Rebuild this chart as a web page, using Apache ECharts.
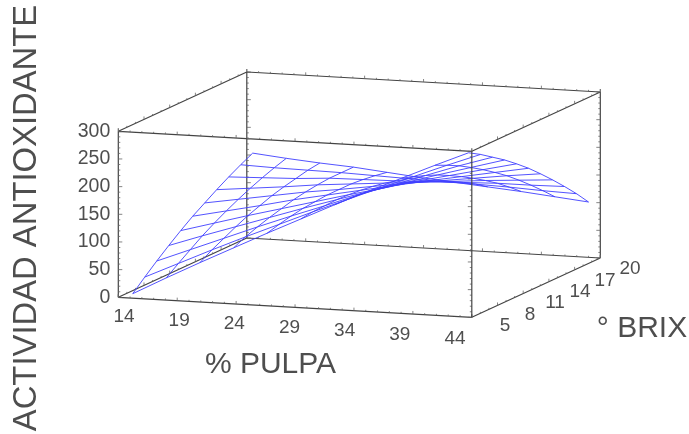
<!DOCTYPE html>
<html><head><meta charset="utf-8">
<style>html,body{margin:0;padding:0;background:#fff}#c{width:689px;height:434px}</style>
<script src="https://cdn.jsdelivr.net/npm/echarts@6/dist/echarts.min.js"></script>
</head><body><div id="c"></div>
<script>
const pulpa = [14.5,17.35,20.2,23.05,25.9,28.75,31.6,34.45,37.3,40.15,43];
const brix = [6,7.4,8.8,10.2,11.6,13,14.4,15.8,17.2,18.6,20];
const actividad = [
 [0,32,63,93,123,152,181,209,236,263,289],
 [20,48,76,103,129,155,180,205,229,253,276],
 [39,63,87,111,134,156,179,200,221,242,261],
 [57,78,98,118,138,157,176,194,212,229,246],
 [74,91,108,124,140,156,171,187,201,215,229],
 [90,103,116,130,142,154,166,178,189,200,211],
 [104,114,124,134,142,151,160,168,176,184,191],
 [118,124,130,137,142,147,152,157,162,166,170],
 [131,133,135,139,140,141,143,145,147,147,148],
 [143,141,140,139,137,135,133,132,130,127,125],
 [154,148,143,139,133,127,122,117,112,106,100]
];
const pulpaTicks = [14,19,24,29,34,39,44];
const brixTicks = [5,8,11,14,17,20];
const zTicks = [0,50,100,150,200,250,300];
const xTitle = '% PULPA', yTitle = '° BRIX', zTitle = 'ACTIVIDAD ANTIOXIDANTE';

// parallel projection of the 3D box on to the hidden page-sized cartesian
const xr=[14,44], yr=[5,20], zr=[0,300];
function proj(x,y,z){
  const t=(x-xr[0])/(xr[1]-xr[0]), s=(y-yr[0])/(yr[1]-yr[0]), h=(z-zr[0])/(zr[1]-zr[0]);
  return [118.3+353.5*t+128.5*s, 297.3+20*t-59.3*s-166*h];
}
function segSeries(segs,color,width,z){
  const data=[];
  segs.forEach(s=>{data.push(s[0],s[1],[null,null]);});
  return {type:'line',data:data,showSymbol:false,silent:true,animation:false,z:z,connectNulls:false,
    lineStyle:{color:color,width:width},clip:false};
}
const [x0,x1]=xr,[y0,y1]=yr,[z0,z1]=zr;
const e=(a,b)=>[proj(...a),proj(...b)];
const back=[
 e([x0,y1,z0],[x1,y1,z0]),e([x0,y1,z1],[x1,y1,z1]),e([x0,y1,z0],[x0,y1,z1]),e([x1,y1,z0],[x1,y1,z1]),
 e([x0,y0,z0],[x0,y1,z0]),e([x0,y0,z1],[x0,y1,z1]),e([x1,y0,z1],[x1,y1,z1]),e([x0,y0,z0],[x0,y0,z1]),
 e([x0,y0,z1],[x1,y0,z1]),e([x0,y0,z0],[x1,y0,z0]),e([x1,y0,z0],[x1,y1,z0])
];
const front=[e([x1,y0,z0],[x1,y0,z1])];
const tick=[];
function addTick(p,dx,dy){tick.push([p,[p[0]+dx,p[1]+dy]]);}
for(let z=0;z<=300;z+=10){
  const L=z%50===0?4:2;
  addTick(proj(x0,y0,z),L,0);addTick(proj(x0,y1,z),L,0);
  addTick(proj(x1,y0,z),-L,0);addTick(proj(x1,y1,z),-L,0);
}
for(let x=14;x<=44;x+=1){
  const L=(x-14)%5===0?3:1.5;
  [z0,z1].forEach(z=>{addTick(proj(x,y0,z),0,-L);addTick(proj(x,y1,z),0,-L);});
}
for(let y=5;y<=20;y+=1){
  const L=(y-5)%3===0?3:1.5;
  [z0,z1].forEach(z=>{addTick(proj(x0,y,z),0,-L);addTick(proj(x1,y,z),0,-L);});
}
const series=[segSeries(back,'#444',1.2,1),segSeries(tick,'#666',0.8,1)];
const blue='#3f3fff';
actividad.forEach((row,j)=>{
  series.push({type:'line',showSymbol:false,silent:true,animation:false,z:2,clip:false,
    data:row.map((v,i)=>proj(pulpa[i],brix[j],v)),lineStyle:{color:blue,width:0.9}});
});
pulpa.forEach((p,i)=>{
  series.push({type:'line',showSymbol:false,silent:true,animation:false,z:2,clip:false,
    data:brix.map((b,j)=>proj(p,b,actividad[j][i])),lineStyle:{color:blue,width:0.9}});
});
series.push(segSeries(front,'#444',1.2,3));
// tick labels and axis titles as anchored text
function labels(items,align,size,rot){
  return {type:'scatter',symbolSize:0,silent:true,animation:false,z:4,clip:false,
    data:items.map(it=>({value:it.p,label:{show:true,position:'inside',formatter:String(it.t),align:align,
      verticalAlign:'middle',fontFamily:'"Liberation Sans",Arial,sans-serif',fontSize:size,color:'#222',rotate:rot||0}}))};
}
series.push(labels(zTicks.map(z=>{const p=proj(x0,y0,z);return {t:z,p:[p[0]-8,p[1]]};}),'right',19.5));
series.push(labels(pulpaTicks.map(x=>{const t=(x-x0)/(x1-x0);return {t:x,p:[124+331*t,317+21.3*t]};}),'center',19));
series.push(labels(brixTicks.map(y=>{const s=(y-y0)/(y1-y0);return {t:y,p:[505+125*s,326-57*s]};}),'center',19));
series.push(labels([{t:xTitle,p:[270.5,365]}],'center',30));
series.push(labels([{t:yTitle,p:[642,329]}],'center',30));
series.push(labels([{t:zTitle,p:[27,218]}],'center',32.8,90));
const chart=echarts.init(document.getElementById('c'),null,{renderer:'canvas'});
chart.setOption({backgroundColor:'#fff',animation:false,
  grid:{left:0,right:0,top:0,bottom:0},
  xAxis:{type:'value',min:0,max:689,show:false},
  yAxis:{type:'value',min:0,max:434,inverse:true,show:false},
  series:series});
</script></body></html>
